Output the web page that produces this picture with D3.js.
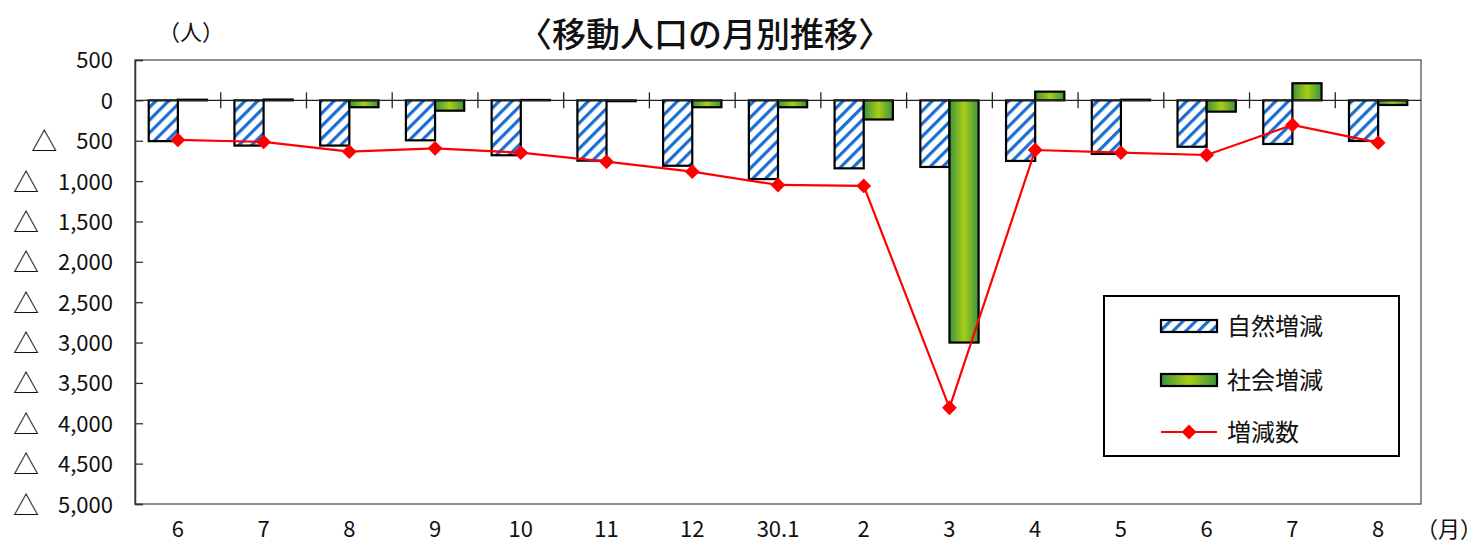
<!DOCTYPE html>
<html>
<head>
<meta charset="utf-8">
<script src="https://cdn.jsdelivr.net/npm/d3@7"></script>
<style>
  body { margin: 0; background: #fff; }
  text { font-family: "Noto Sans CJK JP", "DejaVu Sans", sans-serif; fill: #111; }
</style>
</head>
<body>
<div id="chart"></div>
<script>
// データ
var months = ["6", "7", "8", "9", "10", "11", "12", "30.1", "2", "3", "4", "5", "6", "7", "8"];
var natural = [-505, -560, -560, -495, -680, -747, -810, -975, -842, -825, -750, -664, -575, -540, -503];
var social = [8, 10, -85, -128, 5, -10, -85, -85, -237, -3000, 108, 8, -140, 212, -57];
var total = [-490, -515, -635, -594, -648, -760, -883, -1048, -1060, -3808, -615, -648, -677, -305, -524];
var yTicks = [500, 0, -500, -1000, -1500, -2000, -2500, -3000, -3500, -4000, -4500, -5000];

var W = 1484, H = 543;
var m = { left: 135, right: 1421, top: 60, bottom: 504 };

var svg = d3.select("#chart").append("svg").attr("width", W).attr("height", H);

var defs = svg.append("defs");
var pat = defs.append("pattern")
    .attr("id", "hatch").attr("patternUnits", "userSpaceOnUse")
    .attr("width", 9).attr("height", 9)
    .attr("patternTransform", "rotate(45)");
pat.append("rect").attr("width", 9).attr("height", 9).attr("fill", "#fff");
pat.append("rect").attr("x", 0).attr("width", 3.2).attr("height", 9).attr("fill", "#1b6fd1");

var grad = defs.append("linearGradient").attr("id", "green")
    .attr("x1", "0%").attr("x2", "100%").attr("y1", "0%").attr("y2", "0%");
grad.append("stop").attr("offset", "0%").attr("stop-color", "#3d9140");
grad.append("stop").attr("offset", "50%").attr("stop-color", "#a6cf16");
grad.append("stop").attr("offset", "100%").attr("stop-color", "#3d9140");

var x = d3.scaleBand().domain(d3.range(months.length)).range([m.left, m.right]).padding(0);
var y = d3.scaleLinear().domain([-5000, 500]).range([m.bottom, m.top]);
var bw = x.bandwidth() * 0.34;
var cx = function(i) { return x(i) + x.bandwidth() / 2; };

// 枠
svg.append("rect")
    .attr("x", m.left).attr("y", m.top)
    .attr("width", m.right - m.left).attr("height", m.bottom - m.top)
    .attr("fill", "none").attr("stroke", "#555").attr("stroke-width", 1.3);

// y軸
var yAxis = d3.axisLeft(y).tickValues(yTicks).tickSize(-8).tickPadding(22).tickFormat("");
var gy = svg.append("g").attr("transform", "translate(" + m.left + ",0)").call(yAxis);
gy.select(".domain").attr("stroke", "#333").attr("stroke-width", 1.5);
gy.selectAll(".tick line").attr("stroke", "#333").attr("stroke-width", 1.3);
gy.selectAll(".tick text").each(function(d) {
    var t = d3.select(this).style("font-size", "22px").attr("fill", "#111").attr("dy", null);
    if (d < 0) {
        t.append("tspan").style("font-size", "26px").attr("dy", 10).text("△");
        t.append("tspan").attr("dx", 19).attr("dy", -2).text(d3.format(",")(-d));
    } else {
        t.attr("dy", "0.36em").text(d3.format(",")(d));
    }
});

// 棒
svg.append("g").selectAll("rect").data(natural).enter().append("rect")
    .attr("x", function(d, i) { return cx(i) - bw; })
    .attr("y", function(d) { return y(Math.max(0, d)); })
    .attr("width", bw)
    .attr("height", function(d) { return Math.abs(y(d) - y(0)); })
    .attr("fill", "url(#hatch)").attr("stroke", "#000").attr("stroke-width", 2.2);

svg.append("g").selectAll("rect").data(social).enter().append("rect")
    .attr("x", function(d, i) { return cx(i); })
    .attr("y", function(d) { return y(Math.max(0, d)); })
    .attr("width", bw)
    .attr("height", function(d) { return Math.abs(y(d) - y(0)); })
    .attr("fill", "url(#green)").attr("stroke", "#000").attr("stroke-width", 2.2);

// ゼロ線と目盛
svg.append("line")
    .attr("x1", m.left).attr("x2", m.right).attr("y1", y(0)).attr("y2", y(0))
    .attr("stroke", "#222").attr("stroke-width", 1.3);
svg.append("g").selectAll("line").data(d3.range(1, months.length)).enter().append("line")
    .attr("x1", function(i) { return x(i); }).attr("x2", function(i) { return x(i); })
    .attr("y1", y(0) - 8).attr("y2", y(0) + 8)
    .attr("stroke", "#222").attr("stroke-width", 1.3);

// 折れ線
var line = d3.line().x(function(d, i) { return cx(i); }).y(function(d) { return y(d); });
svg.append("path").datum(total).attr("d", line)
    .attr("fill", "none").attr("stroke", "#ff0000").attr("stroke-width", 2.2);
var diamond = d3.symbol().type(d3.symbolSquare).size(110);
svg.append("g").selectAll("path").data(total).enter().append("path")
    .attr("d", diamond)
    .attr("transform", function(d, i) { return "translate(" + cx(i) + "," + y(d) + ") rotate(45)"; })
    .attr("fill", "#ff0000");

// x軸ラベル
svg.append("g").selectAll("text").data(months).enter().append("text")
    .attr("x", function(d, i) { return cx(i); })
    .attr("y", 537)
    .attr("text-anchor", "middle")
    .style("font-size", "22px")
    .text(function(d) { return d; });

svg.append("text").attr("x", 1482).attr("y", 537).attr("text-anchor", "end")
    .style("font-size", "22px").text("（月）");
svg.append("text").attr("x", 191).attr("y", 40).attr("text-anchor", "middle")
    .style("font-size", "22px").text("（人）");

// タイトル
svg.append("text").attr("x", 705).attr("y", 47).attr("text-anchor", "middle")
    .style("font-size", "34px").style("font-weight", "500").text("〈移動人口の月別推移〉");

// 凡例
var lg = svg.append("g");
lg.append("rect").attr("x", 1104).attr("y", 296).attr("width", 295).attr("height", 160)
    .attr("fill", "#fff").attr("stroke", "#000").attr("stroke-width", 2);
var legendItems = ["自然増減", "社会増減", "増減数"];
var ly = [326, 380, 432];
lg.append("rect").attr("x", 1161).attr("y", ly[0] - 6).attr("width", 56).attr("height", 12)
    .attr("fill", "url(#hatch)").attr("stroke", "#000").attr("stroke-width", 2.2);
lg.append("rect").attr("x", 1161).attr("y", ly[1] - 6).attr("width", 56).attr("height", 12)
    .attr("fill", "url(#green)").attr("stroke", "#000").attr("stroke-width", 2.2);
lg.append("line").attr("x1", 1161).attr("x2", 1217).attr("y1", ly[2]).attr("y2", ly[2])
    .attr("stroke", "#ff0000").attr("stroke-width", 2.2);
lg.append("path").attr("d", diamond)
    .attr("transform", "translate(1189," + ly[2] + ") rotate(45)").attr("fill", "#ff0000");
lg.selectAll("text.lab").data(legendItems).enter().append("text")
    .attr("class", "lab")
    .attr("x", 1227).attr("y", function(d, i) { return ly[i]; }).attr("dy", "0.36em")
    .style("font-size", "24px").text(function(d) { return d; });
</script>
</body>
</html>
